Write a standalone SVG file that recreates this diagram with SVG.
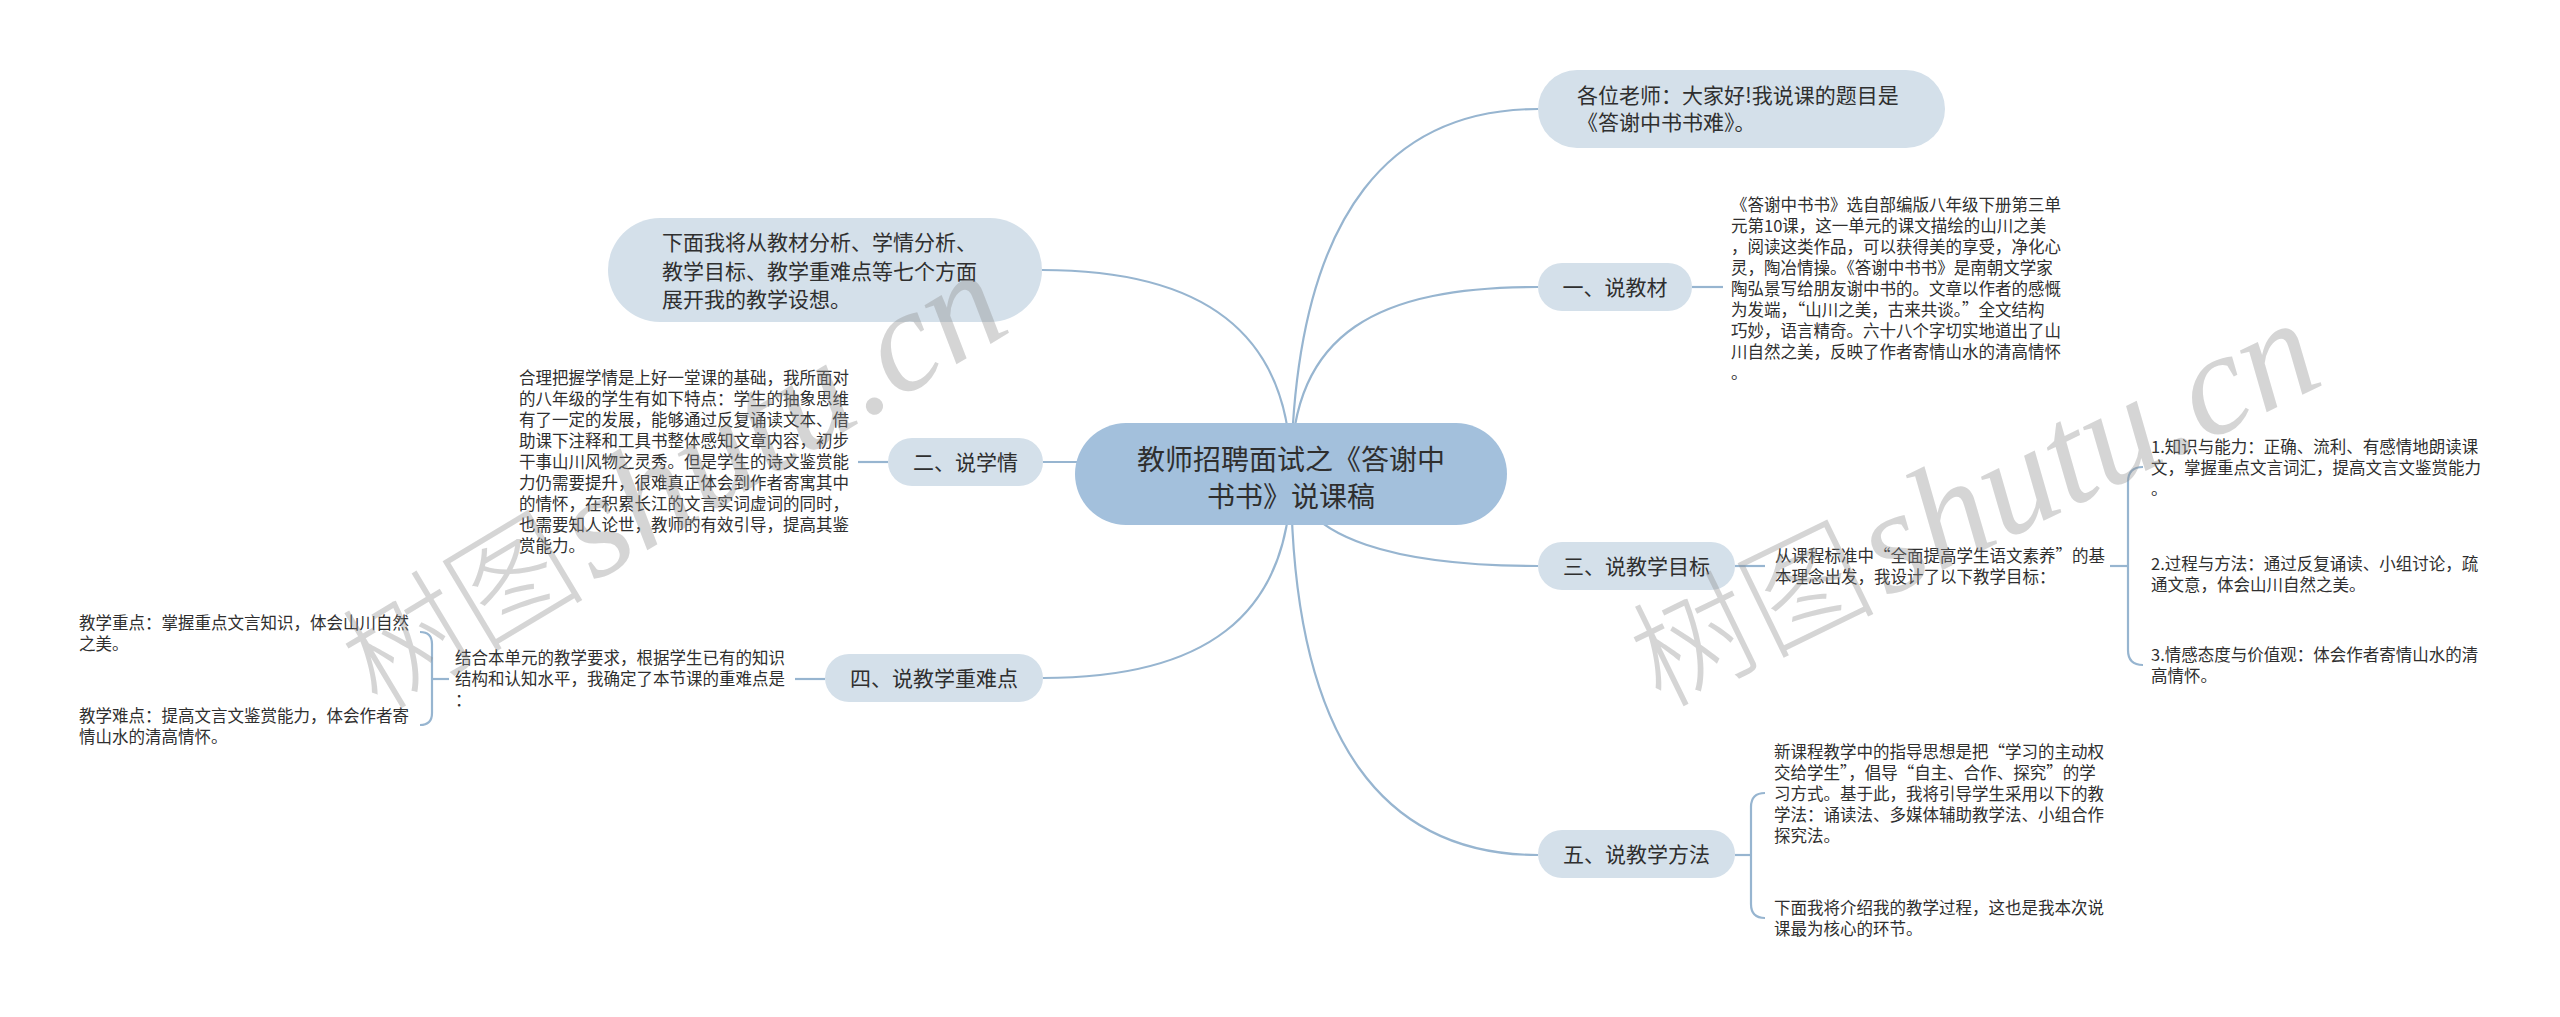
<svg xmlns="http://www.w3.org/2000/svg" width="2560" height="1017" viewBox="0 0 2560 1017">
<style>
.conn{fill:none;stroke:#97b5d0;stroke-width:2.2}
.root rect{fill:#a3c0dc}
.branch rect{fill:#d4e0ea}
text{font-family:"Noto Sans CJK SC","Noto Sans",sans-serif;fill:#2f2f2f}
.rt{font-size:28px;text-anchor:middle}
.bt{font-size:21px}
.bc{font-size:21px;text-anchor:middle}
.lt{font-size:16.5px}
.wm{fill:#8a8a8a;fill-opacity:0.36}
.wm1{font-family:"Noto Sans CJK SC",sans-serif;font-size:122px;font-weight:300}
.wm2{font-family:"Liberation Serif",serif;font-style:italic;font-size:146px}
</style>
<rect width="2560" height="1017" fill="#ffffff"/>
<g id="connectors">
<path class="conn" d="M1291,474 C1295,200 1400,109 1538,109"/>
<path class="conn" d="M1291,474 C1291,330 1380,287 1538,287"/>
<path class="conn" d="M1291,474 C1300,540 1400,566 1538,566"/>
<path class="conn" d="M1291,474 C1291,750 1390,855 1538,855"/>
<path class="conn" d="M1291,474 C1291,330 1200,270 1042,270"/>
<path class="conn" d="M1043,462 L1100,462"/>
<path class="conn" d="M1043,678 C1200,678 1291,620 1291,474"/>
<path class="conn" d="M1692,287 L1723,287"/>
<path class="conn" d="M1735,566 L1765,566"/>
<path class="conn" d="M2110,566 L2128,566"/>
<path class="conn" d="M2143,467 Q2128,467 2128,482 L2128,650 Q2128,665 2143,665"/>
<path class="conn" d="M1735,855 L1751,855"/>
<path class="conn" d="M1765,793 Q1751,793 1751,807 L1751,904 Q1751,918 1765,918"/>
<path class="conn" d="M858,462 L888,462"/>
<path class="conn" d="M795,679 L825,679"/>
<path class="conn" d="M432,679 L449,679"/>
<path class="conn" d="M420,632 Q432,632 432,644 L432,713 Q432,725 420,725"/>
</g>
<g id="root" class="root">
<rect x="1075" y="423" width="432" height="102" rx="51"/>
<text class="rt" x="1291" y="470">教师招聘面试之《答谢中</text>
<text class="rt" x="1291" y="507">书书》说课稿</text>
</g>
<g id="n-intro" class="branch">
<rect x="1538" y="70" width="407" height="78" rx="39"/>
<text class="bt" x="1577" y="102.5">各位老师：大家好!我说课的题目是</text>
<text class="bt" x="1577" y="129.5">《答谢中书书难》。</text>
</g>
<g id="n-overview" class="branch">
<rect x="608" y="218" width="434" height="104" rx="52"/>
<text class="bt" x="662" y="250">下面我将从教材分析、学情分析、</text>
<text class="bt" x="662" y="278.5">教学目标、教学重难点等七个方面</text>
<text class="bt" x="662" y="307">展开我的教学设想。</text>
</g>
<g id="n-1" class="branch">
<rect x="1538" y="263" width="154" height="48" rx="24"/>
<text class="bc" x="1615" y="294.5">一、说教材</text>
</g>
<g id="n-1-text">
<text class="lt" x="1731" y="211">《答谢中书书》选自部编版八年级下册第三单</text>
<text class="lt" x="1731" y="232">元第10课，这一单元的课文描绘的山川之美</text>
<text class="lt" x="1731" y="253">，阅读这类作品，可以获得美的享受，净化心</text>
<text class="lt" x="1731" y="274">灵，陶冶情操。《答谢中书书》是南朝文学家</text>
<text class="lt" x="1731" y="295">陶弘景写给朋友谢中书的。文章以作者的感慨</text>
<text class="lt" x="1731" y="316">为发端，“山川之美，古来共谈。”全文结构</text>
<text class="lt" x="1731" y="337">巧妙，语言精奇。六十八个字切实地道出了山</text>
<text class="lt" x="1731" y="358">川自然之美，反映了作者寄情山水的清高情怀</text>
<text class="lt" x="1731" y="379">。</text>
</g>
<g id="n-2" class="branch">
<rect x="888" y="438" width="155" height="48" rx="24"/>
<text class="bc" x="965.5" y="469.5">二、说学情</text>
</g>
<g id="n-2-text">
<text class="lt" x="519" y="384">合理把握学情是上好一堂课的基础，我所面对</text>
<text class="lt" x="519" y="405">的八年级的学生有如下特点：学生的抽象思维</text>
<text class="lt" x="519" y="426">有了一定的发展，能够通过反复诵读文本、借</text>
<text class="lt" x="519" y="447">助课下注释和工具书整体感知文章内容，初步</text>
<text class="lt" x="519" y="468">干事山川风物之灵秀。但是学生的诗文鉴赏能</text>
<text class="lt" x="519" y="489">力仍需要提升，很难真正体会到作者寄寓其中</text>
<text class="lt" x="519" y="510">的情怀，在积累长江的文言实词虚词的同时，</text>
<text class="lt" x="519" y="531">也需要知人论世，教师的有效引导，提高其鉴</text>
<text class="lt" x="519" y="552">赏能力。</text>
</g>
<g id="n-3" class="branch">
<rect x="1538" y="542" width="197" height="48" rx="24"/>
<text class="bc" x="1636.5" y="573.5">三、说教学目标</text>
</g>
<g id="n-3-text">
<text class="lt" x="1775" y="561.5">从课程标准中“全面提高学生语文素养”的基</text>
<text class="lt" x="1775" y="582.5">本理念出发，我设计了以下教学目标：</text>
</g>
<g id="n-3-1">
<text class="lt" x="2151" y="453">1.知识与能力：正确、流利、有感情地朗读课</text>
<text class="lt" x="2151" y="474">文，掌握重点文言词汇，提高文言文鉴赏能力</text>
<text class="lt" x="2151" y="495">。</text>
</g>
<g id="n-3-2">
<text class="lt" x="2151" y="570">2.过程与方法：通过反复诵读、小组讨论，疏</text>
<text class="lt" x="2151" y="591">通文意，体会山川自然之美。</text>
</g>
<g id="n-3-3">
<text class="lt" x="2151" y="661">3.情感态度与价值观：体会作者寄情山水的清</text>
<text class="lt" x="2151" y="682">高情怀。</text>
</g>
<g id="n-4" class="branch">
<rect x="825" y="654" width="218" height="48" rx="24"/>
<text class="bc" x="934" y="685.5">四、说教学重难点</text>
</g>
<g id="n-4-text">
<text class="lt" x="455" y="664">结合本单元的教学要求，根据学生已有的知识</text>
<text class="lt" x="455" y="685">结构和认知水平，我确定了本节课的重难点是</text>
<text class="lt" x="455" y="706">：</text>
</g>
<g id="n-4-1">
<text class="lt" x="79" y="629">教学重点：掌握重点文言知识，体会山川自然</text>
<text class="lt" x="79" y="650">之美。</text>
</g>
<g id="n-4-2">
<text class="lt" x="79" y="722">教学难点：提高文言文鉴赏能力，体会作者寄</text>
<text class="lt" x="79" y="743">情山水的清高情怀。</text>
</g>
<g id="n-5" class="branch">
<rect x="1538" y="830" width="197" height="48" rx="24"/>
<text class="bc" x="1636.5" y="861.5">五、说教学方法</text>
</g>
<g id="n-5-1">
<text class="lt" x="1774" y="758">新课程教学中的指导思想是把“学习的主动权</text>
<text class="lt" x="1774" y="779">交给学生”，倡导“自主、合作、探究”的学</text>
<text class="lt" x="1774" y="800">习方式。基于此，我将引导学生采用以下的教</text>
<text class="lt" x="1774" y="821">学法：诵读法、多媒体辅助教学法、小组合作</text>
<text class="lt" x="1774" y="842">探究法。</text>
</g>
<g id="n-5-2">
<text class="lt" x="1774" y="914">下面我将介绍我的教学过程，这也是我本次说</text>
<text class="lt" x="1774" y="935">课最为核心的环节。</text>
</g>
<g id="watermarks" class="wm">
<text class="wm" transform="translate(378,712) rotate(-31)"><tspan class="wm1">树图</tspan><tspan class="wm2" dx="8">shutu.cn</tspan></text>
<text class="wm" transform="translate(1660,708) rotate(-26)"><tspan class="wm1">树图</tspan><tspan class="wm2" dx="8">shutu.cn</tspan></text>
</g>
</svg>
